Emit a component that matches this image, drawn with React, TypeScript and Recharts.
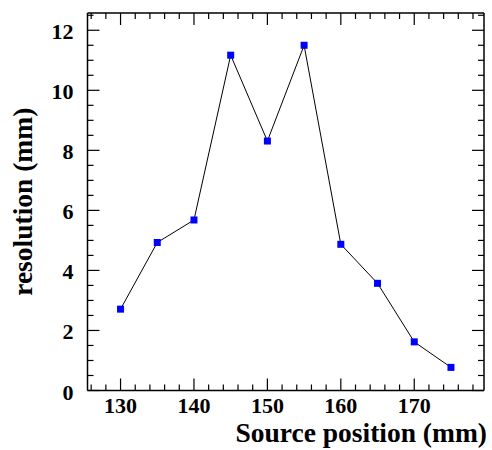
import React from 'react';
import { LineChart, Line, XAxis, YAxis, Label } from 'recharts';

const positions = [130, 135, 140, 145, 150, 155, 160, 165, 170, 175];
const resolution = [2.71, 4.93, 5.68, 11.17, 8.31, 11.5, 4.87, 3.57, 1.62, 0.77];

const xTicks = [
  126, 128, 130, 132, 134, 136, 138, 140, 142, 144, 146, 148, 150, 152,
  154, 156, 158, 160, 162, 164, 166, 168, 170, 172, 174, 176, 178,
];
const yTicks = [
  0, 0.5, 1, 1.5, 2, 2.5, 3, 3.5, 4, 4.5, 5, 5.5, 6, 6.5, 7, 7.5, 8, 8.5,
  9, 9.5, 10, 10.5, 11, 11.5, 12, 12.5,
];

const data = positions.map((p, i) => ({ pos: p, res: resolution[i] }));

const FONT = '"Liberation Serif", "Times New Roman", serif';
const MAJOR = 12;
const MINOR = 6;

const BottomTick = (props: any) => {
  const { x, y, payload } = props;
  const major = payload.value % 10 === 0;
  return (
    <g>
      <line x1={x} x2={x} y1={y} y2={y - (major ? MAJOR : MINOR)} stroke="#000" strokeWidth={1.2} />
      {major && (
        <text x={x} y={y + 22} textAnchor="middle" fontFamily={FONT} fontWeight="bold" fontSize={22} fill="#000">
          {payload.value}
        </text>
      )}
    </g>
  );
};

const TopTick = (props: any) => {
  const { x, y, payload } = props;
  const major = payload.value % 10 === 0;
  return <line x1={x} x2={x} y1={y} y2={y + (major ? MAJOR : MINOR)} stroke="#000" strokeWidth={1.2} />;
};

const LeftTick = (props: any) => {
  const { x, y, payload } = props;
  const major = payload.value % 2 === 0;
  return (
    <g>
      <line x1={x} x2={x + (major ? MAJOR : MINOR)} y1={y} y2={y} stroke="#000" strokeWidth={1.2} />
      {major && (
        <text x={x - 14} y={y + 9} textAnchor="end" fontFamily={FONT} fontWeight="bold" fontSize={22} fill="#000">
          {payload.value}
        </text>
      )}
    </g>
  );
};

const RightTick = (props: any) => {
  const { x, y, payload } = props;
  const major = payload.value % 2 === 0;
  return <line x1={x} x2={x - (major ? MAJOR : MINOR)} y1={y} y2={y} stroke="#000" strokeWidth={1.2} />;
};

const SquareDot = (props: any) => {
  const { cx, cy } = props;
  if (cx == null || cy == null) return null;
  return <rect x={cx - 3.5} y={cy - 3.5} width={7} height={7} fill="#0000ff" />;
};

export default function App() {
  const axisLine = { stroke: '#000', strokeWidth: 1.5 };
  return (
    <div style={{ position: 'absolute', left: 0, top: 0, background: '#fff' }}>
      <LineChart width={492} height={450} data={data} margin={{ top: 12, right: 7, bottom: 0, left: 0 }}>
        <XAxis
          dataKey="pos"
          type="number"
          domain={[125.5, 179.5]}
          ticks={xTicks}
          interval={0}
          allowDataOverflow
          height={59.5}
          tickSize={0}
          tickMargin={0}
          tickLine={false}
          axisLine={axisLine}
          tick={BottomTick}
        >
          <Label
            content={(p: any) => {
              const vb = p.viewBox;
              return (
                <text
                  x={vb.x + vb.width + 3}
                  y={vb.y + 51}
                  textAnchor="end"
                  fontFamily={FONT}
                  fontWeight="bold"
                  fontSize={27.5}
                  fill="#000"
                >
                  Source position (mm)
                </text>
              );
            }}
          />
        </XAxis>
        <XAxis
          xAxisId="top"
          dataKey="pos"
          orientation="top"
          type="number"
          domain={[125.5, 179.5]}
          ticks={xTicks}
          interval={0}
          allowDataOverflow
          height={1}
          tickSize={0}
          tickMargin={0}
          tickLine={false}
          axisLine={axisLine}
          tick={TopTick}
        />
        <YAxis
          type="number"
          domain={[0, 12.575]}
          ticks={yTicks}
          interval={0}
          allowDataOverflow
          width={87.5}
          tickSize={0}
          tickMargin={0}
          tickLine={false}
          axisLine={axisLine}
          tick={LeftTick}
        >
          <Label
            content={(p: any) => {
              const vb = p.viewBox;
              const cy = vb.y + vb.height / 2;
              return (
                <text
                  x={32}
                  y={cy}
                  transform={`rotate(-90 32 ${cy})`}
                  textAnchor="middle"
                  fontFamily={FONT}
                  fontWeight="bold"
                  fontSize={27.5}
                  fill="#000"
                >
                  resolution (mm)
                </text>
              );
            }}
          />
        </YAxis>
        <YAxis
          yAxisId="right"
          orientation="right"
          type="number"
          domain={[0, 12.575]}
          ticks={yTicks}
          interval={0}
          allowDataOverflow
          width={1}
          tickSize={0}
          tickMargin={0}
          tickLine={false}
          axisLine={axisLine}
          tick={RightTick}
        />
        {/* invisible twin series so the top/right frame axes get drawn */}
        <Line
          xAxisId="top"
          yAxisId="right"
          type="linear"
          dataKey="res"
          stroke="none"
          dot={false}
          activeDot={false}
          legendType="none"
          isAnimationActive={false}
        />
        <Line
          type="linear"
          dataKey="res"
          stroke="#000"
          strokeWidth={1}
          dot={<SquareDot />}
          activeDot={false}
          isAnimationActive={false}
        />
      </LineChart>
    </div>
  );
}
